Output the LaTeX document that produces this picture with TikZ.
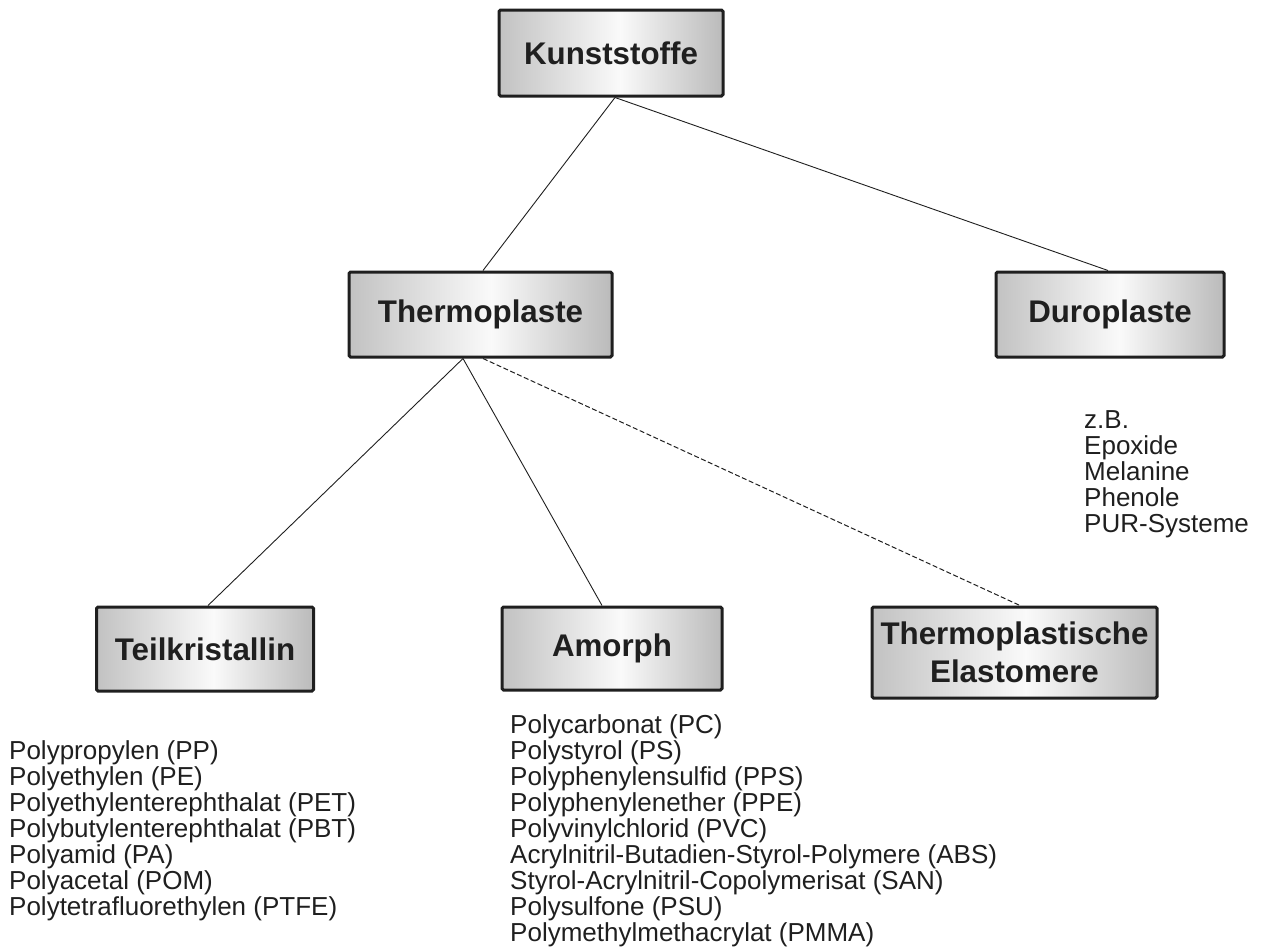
\documentclass[tikz,border=0pt]{standalone}
\usepackage{fontspec}
\setmainfont{Liberation Sans}
\definecolor{sA}{gray}{0.56}
\definecolor{sB}{gray}{0.76}
\definecolor{sC}{gray}{0.98}
\definecolor{sD}{gray}{0.72}
\definecolor{sE}{gray}{0.50}
\definecolor{ink}{gray}{0.12}
\pgfdeclarehorizontalshading{boxshade}{100bp}{color(0bp)=(sA); color(25bp)=(sB); color(52bp)=(sC); color(76bp)=(sD); color(100bp)=(sE)}
\begin{document}
\begin{tikzpicture}[x=1pt,y=-1pt,
  box/.style={draw=ink, line width=3pt, rounded corners=1.5pt, shading=boxshade,
    text=ink, font=\bfseries\fontsize{31.3}{38.3}\selectfont, align=center, inner sep=0pt},
  list/.style={anchor=north west, align=left, inner sep=0pt, text=ink,
    font=\fontsize{26}{26}\selectfont},
  link/.style={draw=ink, line width=0.9pt},
  dlink/.style={link, line width=1pt, dash pattern=on 5pt off 2.5pt}]
\useasboundingbox (0,0) rectangle (1266,948);
\node[box, minimum width=224pt, minimum height=86pt] (K) at (611,53) {Kunststoffe};
\node[box, minimum width=263pt, minimum height=85pt] (T) at (480.5,314.5) {Thermoplaste};
\node[box, minimum width=228pt, minimum height=85pt] (D) at (1110,314.5) {Duroplaste};
\node[box, minimum width=217pt, minimum height=84pt] (TK) at (205,649) {Teilkristallin};
\node[box, minimum width=220pt, minimum height=83pt] (AM) at (612,648.5) {Amorph};
\node[box, minimum width=285pt, minimum height=91pt] (TPE) at (1014.5,652.5) {Thermoplastische\\Elastomere};
\draw[link] ([xshift=4pt]K.south) -- ([xshift=2.5pt]T.north);
\draw[link] ([xshift=4pt]K.south) -- ([xshift=-2pt]D.north);
\draw[link] ([xshift=-17.5pt]T.south) -- ([xshift=3pt]TK.north);
\draw[link] ([xshift=-17.5pt]T.south) -- ([xshift=-10pt]AM.north);
\draw[dlink] ([xshift=2.5pt]T.south) -- ([xshift=5.5pt]TPE.north);
\node[list] (L1) at (9,740.5) {Polypropylen (PP)\\Polyethylen (PE)\\Polyethylenterephthalat (PET)\\Polybutylenterephthalat (PBT)\\Polyamid (PA)\\Polyacetal (POM)\\Polytetrafluorethylen (PTFE)};
\node[list] (L2) at (510,714.5) {Polycarbonat (PC)\\Polystyrol (PS)\\Polyphenylensulfid (PPS)\\Polyphenylenether (PPE)\\Polyvinylchlorid (PVC)\\Acrylnitril-Butadien-Styrol-Polymere (ABS)\\Styrol-Acrylnitril-Copolymerisat (SAN)\\Polysulfone (PSU)\\Polymethylmethacrylat (PMMA)};
\node[list] (L3) at (1084,410.5) {z.B.\\Epoxide\\Melanine\\Phenole\\PUR-Systeme};
\end{tikzpicture}
\end{document}
